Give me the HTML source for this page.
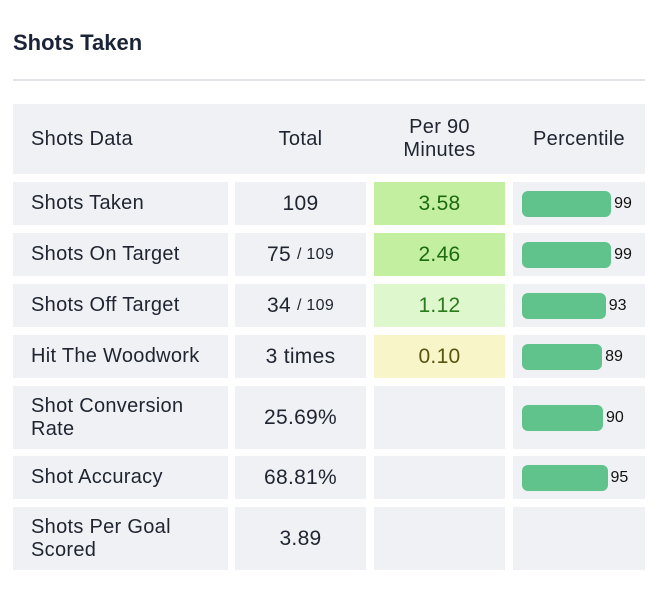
<!DOCTYPE html>
<html><head><meta charset="utf-8"><style>
body{margin:0;width:658px;height:593px;background:#fff;font-family:"Liberation Sans",sans-serif;position:relative;overflow:hidden}
.t{position:absolute;left:13px;top:30px;font-size:22px;font-weight:bold;color:#1b2437}
.hr{position:absolute;left:13px;top:79px;width:632px;height:2px;background:#e2e4e8}
.c{position:absolute;background:#eff1f4;color:#1f2430;font-size:20px;display:flex;align-items:center;box-sizing:border-box;letter-spacing:0.3px}
.l{padding-left:18px;line-height:23px}
.m{justify-content:center;text-align:center;line-height:23px}
.bar{position:absolute;background:#5fc38b;border-radius:6px;height:26px}
.pv{position:absolute;font-size:16px;line-height:18px;color:#111}
</style></head><body>
<div class="t">Shots Taken</div>
<div class="hr"></div>
<div class="c" style="left:13px;top:104px;width:632px;height:70px"></div>
<div class="c l" style="left:13px;top:104px;width:215px;height:70px;background:none">Shots Data</div>
<div class="c m" style="left:235px;top:104px;width:131px;height:70px;background:none">Total</div>
<div class="c m" style="left:374px;top:104px;width:131px;height:70px;background:none">Per 90<br>Minutes</div>
<div class="c m" style="left:513px;top:104px;width:132px;height:70px;background:none">Percentile</div>
<div id="rows"></div>
<script>
const labels=["Shots Taken","Shots On Target","Shots Off Target","Hit The Woodwork","Shot Conversion<br>Rate","Shot Accuracy","Shots Per Goal<br>Scored"];
const totals=["109","75","34","3 times","25.69%","68.81%","3.89"];
const totalsOf=["","109","109","","","",""];
const per90=["3.58","2.46","1.12","0.10","","",""];
const percentiles=[99,99,93,89,90,95,null];
const tops=[182,233,284,335,386,456,507], hs=[43,43,43,43,63,43,63];
const bgs={"3.58":"#c2efa0","2.46":"#c2efa0","1.12":"#dff7cd","0.10":"#f8f6c9"};
const fg={"3.58":"#1d6a12","2.46":"#1d6a12","1.12":"#2b7a1b","0.10":"#5b5410"};
const R=document.getElementById('rows');
function cell(cls,l,t,w,h,html,name){const d=document.createElement('div');d.className='c '+cls;d.style.cssText=`left:${l}px;top:${t}px;width:${w}px;height:${h}px`;d.innerHTML=html;


R.appendChild(d);return d;}
labels.forEach((lb,i)=>{
 const t=tops[i],h=hs[i];
 cell('l',13,t,215,h,lb,'row-label');
 cell('m',235,t,131,h,totals[i]+(totalsOf[i]?' <span style="font-size:16px;margin-left:6px">/ '+totalsOf[i]+'</span>':''),'total-cell').style.fontSize='21px';
 const p=cell('m',374,t,131,h,per90[i],'per90-cell');
 if(per90[i]){p.style.background=bgs[per90[i]];p.style.color=fg[per90[i]];p.style.fontSize='21px';}
 cell('',513,t,132,h,'','percentile-cell');
 if(percentiles[i]!=null){
  const w=percentiles[i]*0.9;
  const b=document.createElement('div');b.className='bar';
  
  
  b.style.cssText=`left:522px;top:${t+h/2-13}px;width:${w}px`;R.appendChild(b);
  const v=document.createElement('div');v.className='pv';
  
  
  v.textContent=percentiles[i];v.style.cssText=`left:${522+w+3}px;top:${t+h/2-9}px`;R.appendChild(v);
 }
});
</script>
</body></html>
